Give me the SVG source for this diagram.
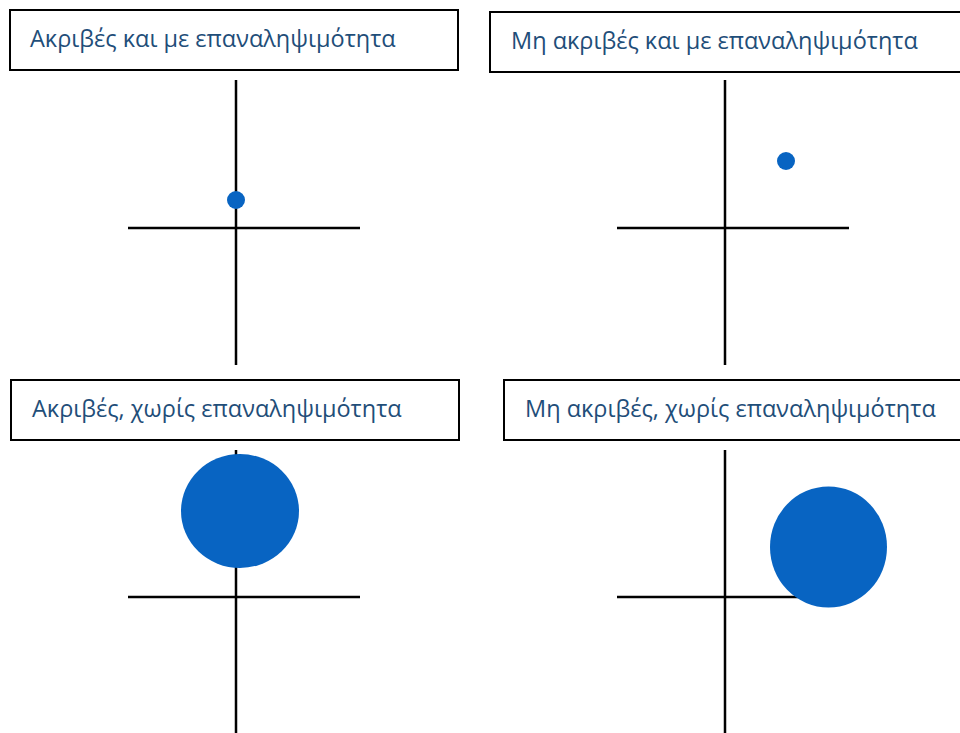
<svg xmlns="http://www.w3.org/2000/svg" width="960" height="733" viewBox="0 0 960 733">
<style>
.box{fill:#fff;stroke:#000;stroke-width:2}
.lbl{font-family:"Open Sans","Liberation Sans",sans-serif;font-size:23.5px;fill:#1F4E79}
.ax{stroke:#000;stroke-width:2.5;fill:none}
.dot{fill:#0864C2}
</style>
<rect width="960" height="733" fill="#fff"/>
<g id="panel1">
<rect class="box" x="10" y="10" width="448" height="60"/>
<text class="lbl" x="30" y="47">Ακριβές και με επαναληψιμότητα</text>
</g>
<g id="panel2">
<rect class="box" x="490" y="12" width="480" height="60"/>
<text class="lbl" x="511" y="49">Μη ακριβές και με επαναληψιμότητα</text>
</g>
<g id="panel3">
<rect class="box" x="11" y="380" width="448" height="60"/>
<text class="lbl" x="32" y="417">Ακριβές, χωρίς επαναληψιμότητα</text>
</g>
<g id="panel4">
<rect class="box" x="504" y="380" width="470" height="60"/>
<text class="lbl" x="525" y="417">Μη ακριβές, χωρίς επαναληψιμότητα</text>
</g>
<g id="axes">
<line class="ax" x1="236" y1="80" x2="236" y2="365"/>
<line class="ax" x1="128" y1="228" x2="360" y2="228"/>
<line class="ax" x1="725" y1="80" x2="725" y2="365"/>
<line class="ax" x1="617" y1="228" x2="849" y2="228"/>
<line class="ax" x1="236" y1="450" x2="236" y2="733"/>
<line class="ax" x1="128" y1="597" x2="360" y2="597"/>
<line class="ax" x1="725" y1="450" x2="725" y2="733"/>
<line class="ax" x1="617" y1="597" x2="849" y2="597"/>
</g>
<g id="dots">
<circle class="dot" cx="236" cy="200" r="9"/>
<circle class="dot" cx="786" cy="161" r="9"/>
<ellipse class="dot" cx="240" cy="511" rx="59" ry="57"/>
<ellipse class="dot" cx="828.5" cy="547" rx="58.5" ry="60.5"/>
</g>
</svg>
